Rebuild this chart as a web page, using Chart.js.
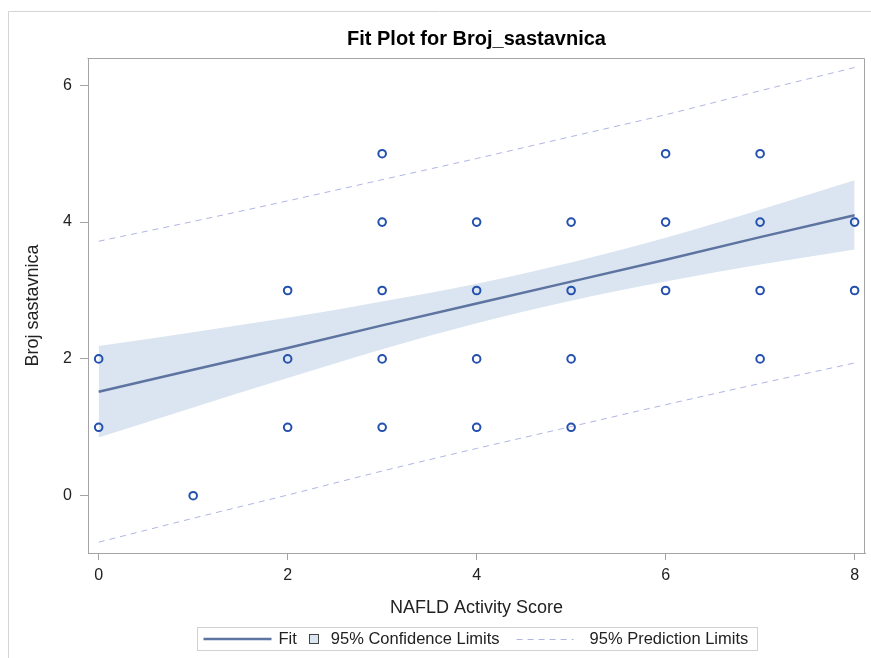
<!DOCTYPE html>
<html><head><meta charset="utf-8">
<script src="https://cdn.jsdelivr.net/npm/chart.js@4/dist/chart.umd.min.js"></script>
<style>html,body{margin:0;padding:0;background:#fff;overflow:hidden;} #wrap{width:871px;height:658px;position:relative;}</style>
</head><body><div id="wrap"><canvas id="c" width="871" height="658"></canvas></div>
<script>
// ---- data ----
const scoreX = [0,0,1,2,2,2,3,3,3,3,3,4,4,4,4,5,5,5,5,6,6,6,7,7,7,7,8,8];
const countY = [2,1,0,3,2,1,5,4,3,2,1,4,3,2,1,4,3,2,1,5,4,3,5,4,3,2,4,3];
const lineX   = [0,1,2,3,4,5,6,7,8];
const fitY    = [1.52,1.84,2.16,2.49,2.81,3.13,3.45,3.78,4.10];
const clUpper = [2.19,2.39,2.60,2.84,3.10,3.41,3.77,4.18,4.61];
const clLower = [0.85,1.29,1.72,2.14,2.52,2.85,3.13,3.38,3.60];
const plUpper = [3.72,4.01,4.31,4.62,4.93,5.25,5.57,5.92,6.26];
const plLower = [-0.68,-0.33,0.01,0.36,0.69,1.01,1.33,1.64,1.94];
const xTicks = [0,2,4,6,8];
const yTicks = [0,2,4,6];
const titleText = 'Fit Plot for Broj_sastavnica';
const xTitle = 'NAFLD Activity Score';
const yTitle = 'Broj sastavnica';
const legendLabels = ['Fit','95% Confidence Limits','95% Prediction Limits'];

// ---- styles ----
const FONT = '"Liberation Sans", Arial, sans-serif';
const markerColor = '#2450ae';
const fitColor = '#5d74a0';
const bandColor = '#dbe4f1';
const predColor = '#b0b6e4';
const axisColor = '#a4a4a4';
const textColor = '#222222';

const pts = scoreX.map((x,i)=>({x, y: countY[i]}));
const mk = arr => lineX.map((x,i)=>({x, y: arr[i]}));

const framePlugin = {
  id: 'frame',
  beforeDraw(chart){
    const ctx = chart.ctx;
    ctx.save();
    ctx.fillStyle = '#fff';
    ctx.fillRect(0,0,chart.width,chart.height);
    ctx.strokeStyle = '#d4d4d4';
    ctx.lineWidth = 1;
    ctx.beginPath();
    ctx.moveTo(8.5, chart.height);
    ctx.lineTo(8.5, 11.5);
    ctx.lineTo(chart.width, 11.5);
    ctx.stroke();
    ctx.restore();
  },
  afterDraw(chart){
    const ctx = chart.ctx, ca = chart.chartArea;
    ctx.save();
    ctx.strokeStyle = axisColor; ctx.lineWidth = 1;
    ctx.beginPath();
    ctx.moveTo(Math.round(ca.left)-0.5, Math.round(ca.top)+0.5);
    ctx.lineTo(Math.round(ca.right)-0.5, Math.round(ca.top)+0.5);
    ctx.lineTo(Math.round(ca.right)-0.5, Math.round(ca.bottom));
    ctx.stroke();
    const cx = (ca.left+ca.right)/2;
    ctx.fillStyle = '#000';
    ctx.font = 'bold 20px ' + FONT;
    ctx.textAlign = 'center';
    ctx.textBaseline = 'middle';
    ctx.fillText(titleText, cx, 39);
    ctx.font = '16.5px ' + FONT;
    ctx.textAlign = 'left';
    const w = legendLabels.map(t=>ctx.measureText(t).width);
    const total = 6+68+7+w[0]+12+9+13+w[1]+17+57+16+w[2]+9;
    const bx = Math.round(cx - total/2)+0.5;
    const by = 627.5, bh = 23;
    ctx.strokeStyle = '#d2d2d2'; ctx.lineWidth = 1;
    ctx.strokeRect(bx, by, Math.round(total), bh);
    const cy = by + bh/2;
    let x = bx + 6;
    ctx.strokeStyle = fitColor; ctx.lineWidth = 2.5;
    ctx.beginPath(); ctx.moveTo(x, cy); ctx.lineTo(x+68, cy); ctx.stroke();
    x += 68+7;
    ctx.fillStyle = textColor;
    ctx.fillText(legendLabels[0], x, cy+0.5);
    x += w[0]+12;
    ctx.fillStyle = bandColor;
    ctx.fillRect(Math.round(x)+0.5, Math.round(cy-4.5)-0.5, 9, 9);
    ctx.strokeStyle = '#444'; ctx.lineWidth = 1;
    ctx.strokeRect(Math.round(x)+0.5, Math.round(cy-4.5)-0.5, 9, 9);
    x += 9+13;
    ctx.fillStyle = textColor;
    ctx.fillText(legendLabels[1], x, cy+0.5);
    x += w[1]+17;
    ctx.strokeStyle = predColor; ctx.lineWidth = 1;
    ctx.setLineDash([6,5]);
    ctx.beginPath(); ctx.moveTo(x, Math.round(cy)+0.5); ctx.lineTo(x+57, Math.round(cy)+0.5); ctx.stroke();
    ctx.setLineDash([]);
    x += 57+16;
    ctx.fillStyle = textColor;
    ctx.fillText(legendLabels[2], x, cy+0.5);
    ctx.restore();
  }
};

new Chart(document.getElementById('c'), {
  type: 'scatter',
  data: {
    datasets: [
      { label: 'Broj_sastavnica', data: pts, order: 0,
        pointStyle: 'circle', pointRadius: 3.8, pointBorderWidth: 2,
        borderColor: markerColor, backgroundColor: 'rgba(255,255,255,0)', showLine: false },
      { label: 'Fit', type: 'line', data: mk(fitY), order: 1,
        borderColor: fitColor, borderWidth: 2.5, pointRadius: 0, fill: false, tension: 0 },
      { label: '95% Prediction Limits', type: 'line', data: mk(plUpper), order: 2,
        borderColor: predColor, borderWidth: 1, borderDash: [6,5], pointRadius: 0, fill: false, cubicInterpolationMode: 'monotone' },
      { label: '95% Prediction Limits L', type: 'line', data: mk(plLower), order: 2,
        borderColor: predColor, borderWidth: 1, borderDash: [6,5], pointRadius: 0, fill: false, cubicInterpolationMode: 'monotone' },
      { label: '95% Confidence Limits', type: 'line', data: mk(clUpper), order: 3,
        borderColor: 'rgba(0,0,0,0)', borderWidth: 0, pointRadius: 0, backgroundColor: bandColor,
        fill: '+1', cubicInterpolationMode: 'monotone' },
      { label: '95% Confidence Limits L', type: 'line', data: mk(clLower), order: 3,
        borderColor: 'rgba(0,0,0,0)', borderWidth: 0, pointRadius: 0, fill: false, cubicInterpolationMode: 'monotone' }
    ]
  },
  options: {
    responsive: false,
    animation: false,
    devicePixelRatio: 1,
    layout: { padding: { left: 9, right: 6, top: 58, bottom: 0 } },
    plugins: { legend: { display: false }, tooltip: { enabled: false }, title: { display: false } },
    scales: {
      x: {
        type: 'linear', min: -0.113, max: 8.11,
        afterBuildTicks: s => { s.ticks = xTicks.map(v=>({value:v})); },
        afterFit: s => { s.height = 105; },
        grid: { display: true, drawOnChartArea: false, drawTicks: true, tickLength: 7, color: axisColor },
        border: { display: true, color: axisColor, width: 1 },
        ticks: { padding: 6, color: textColor, font: { family: FONT, size: 16 }, maxRotation: 0 },
        title: { display: true, text: xTitle, color: textColor, font: { family: FONT, size: 18 }, padding: { top: 0, bottom: 39 } }
      },
      y: {
        type: 'linear', min: -0.838, max: 6.399,
        afterBuildTicks: s => { s.ticks = yTicks.map(v=>({value:v})); },
        afterFit: s => { s.width = 79; },
        grid: { display: true, drawOnChartArea: false, drawTicks: true, tickLength: 8, color: axisColor },
        border: { display: true, color: axisColor, width: 1 },
        ticks: { padding: 8, color: textColor, font: { family: FONT, size: 16 } },
        title: { display: true, text: yTitle, color: textColor, font: { family: FONT, size: 18 }, padding: { top: 13, bottom: 0 } }
      }
    }
  },
  plugins: [framePlugin]
});
</script>
</body></html>
